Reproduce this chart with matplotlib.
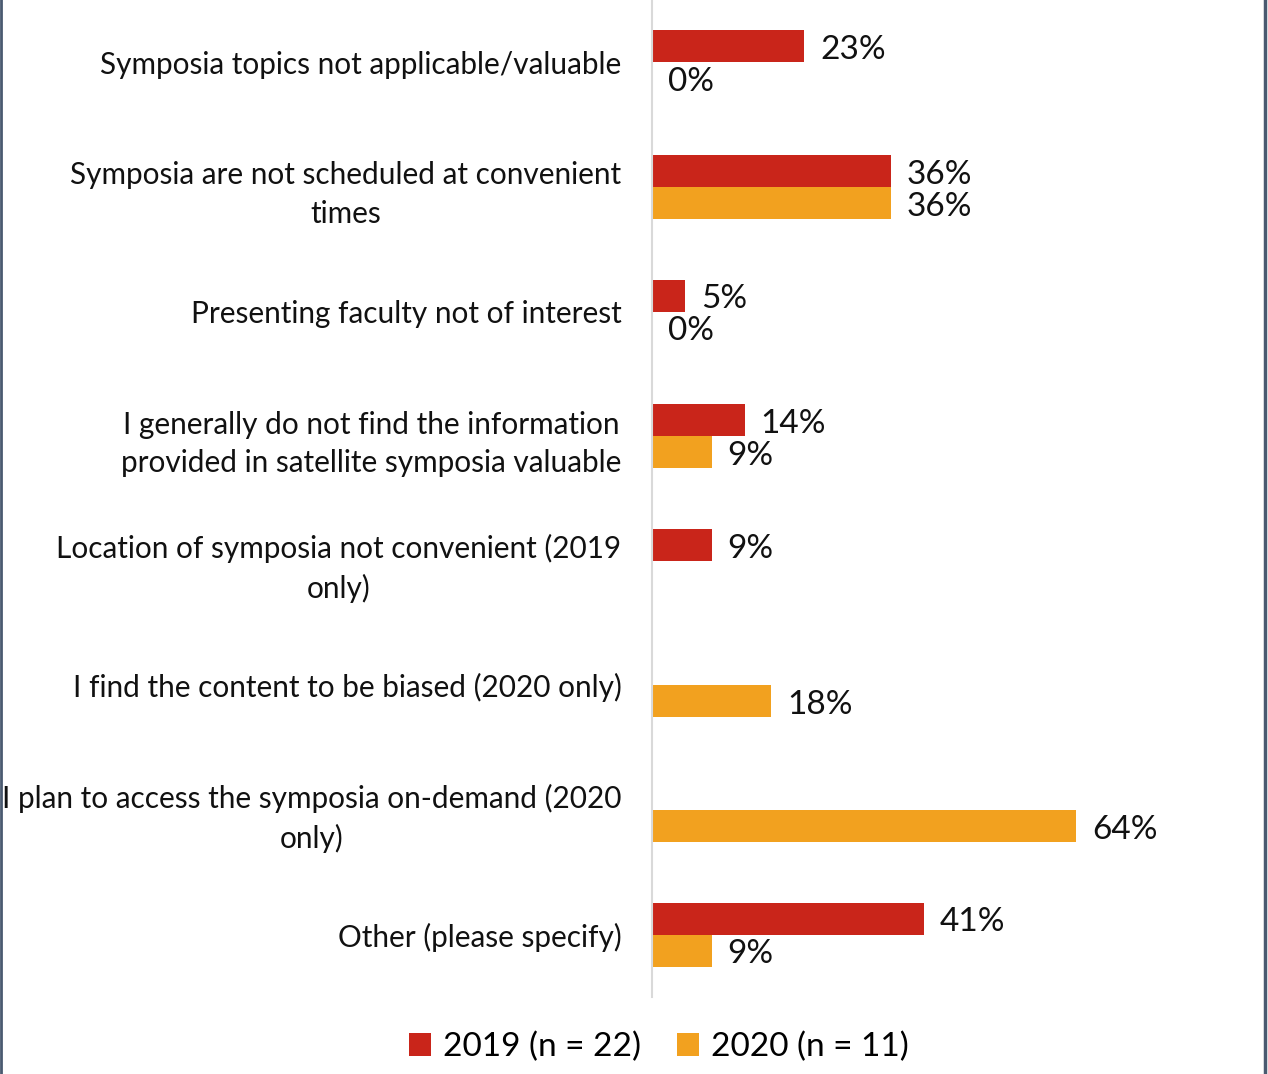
import matplotlib.pyplot as plt
from matplotlib.lines import Line2D
import numpy as np

plt.rcParams['font.family'] = ['Lato', 'DejaVu Sans']

categories = [
    "Symposia topics not applicable/valuable",
    "Symposia are not scheduled at convenient\ntimes",
    "Presenting faculty not of interest",
    "I generally do not find the information\nprovided in satellite symposia valuable",
    "Location of symposia not convenient (2019\nonly)",
    "I find the content to be biased (2020 only)",
    "I plan to access the symposia on-demand (2020\nonly)",
    "Other (please specify)",
]
vals_2019 = [23, 36, 5, 14, 9, np.nan, np.nan, 41]
vals_2020 = [0, 36, 0, 9, np.nan, 18, 64, 9]
series_names = ["2019 (n = 22)", "2020 (n = 11)"]

red = "#C9251A"
orange = "#F2A11F"

fig = plt.figure(figsize=(12.68, 10.74), dpi=100)
ax = fig.add_axes([652 / 1268, 77 / 1074, 600 / 1268, 997 / 1074])

y = np.arange(len(categories))
h = 0.257
b1 = ax.barh(y - h / 2, np.nan_to_num(vals_2019), height=h, color=red, label=series_names[0])
b2 = ax.barh(y + h / 2, np.nan_to_num(vals_2020), height=h, color=orange, label=series_names[1])

for vals, offs in ((vals_2019, -h / 2), (vals_2020, h / 2)):
    for i, v in enumerate(vals):
        if np.isnan(v):
            continue
        ax.text(v + 2.4, i + offs + 0.03, f"{v:.0f}%", va="center", ha="left", fontsize=24, color="#111111")

ax.set_xlim(0, 90.5)
ax.set_ylim(len(categories) - 0.5, -0.5)
ax.set_yticks(y)
ax.set_yticklabels(categories, fontsize=21.4, multialignment="center", color="#111111", linespacing=1.45)
ax.tick_params(axis="y", length=0, pad=22)
ax.set_xticks([])
for s in ("top", "right", "bottom"):
    ax.spines[s].set_visible(False)
ax.spines["left"].set_color("#d9d9d9")
ax.spines["left"].set_linewidth(1.5)

leg = fig.legend(handles=[b1, b2], loc="center", bbox_to_anchor=(659 / 1268, 1 - 1047 / 1074), ncol=2,
                 frameon=False, fontsize=24, handlelength=0.65, handleheight=0.65,
                 handletextpad=0.35, columnspacing=1.1)

# outer frame lines on left and right
fig.add_artist(Line2D([0.001, 0.001], [0, 1], transform=fig.transFigure, color="#4a5a70", lw=2))
fig.add_artist(Line2D([0.998, 0.998], [0, 1], transform=fig.transFigure, color="#4a5a70", lw=2.5))

fig.savefig("out.png", dpi=100)
